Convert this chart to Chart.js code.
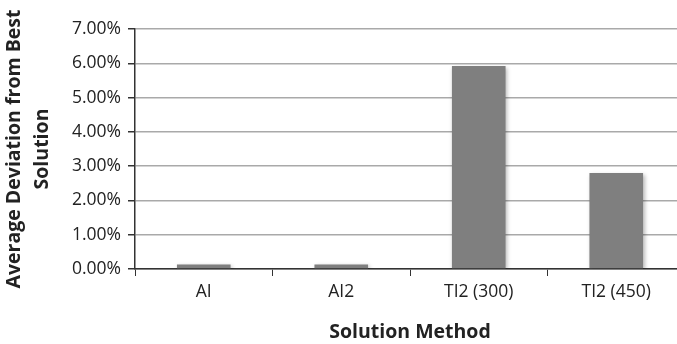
<!DOCTYPE html>
<html>
<head>
<meta charset="utf-8">
<script src="https://cdn.jsdelivr.net/npm/chart.js@4/dist/chart.umd.min.js"></script>
<style>
  html, body { margin: 0; padding: 0; background: #fff; overflow: hidden; }
  #wrap { width: 685px; height: 344px; position: relative; }
</style>
</head>
<body>
<div id="wrap"><canvas id="myChart"></canvas></div>
<script>
var categories = ['AI', 'AI2', 'TI2 (300)', 'TI2 (450)'];
var deviation = [0.0013, 0.0013, 0.0592, 0.0280];
var yTicks = [0, 0.01, 0.02, 0.03, 0.04, 0.05, 0.06, 0.07];

var FONT = "'Open Sans', sans-serif";

// soft drop shadow behind the bars, like the original spreadsheet chart
var barShadow = {
  id: 'barShadow',
  beforeDatasetsDraw: function (chart) {
    var ctx = chart.ctx;
    ctx.save();
    ctx.shadowColor = 'rgba(0,0,0,0.28)';
    ctx.shadowBlur = 4;
    ctx.shadowOffsetX = 1.5;
    ctx.shadowOffsetY = 1.5;
  },
  afterDatasetsDraw: function (chart) {
    chart.ctx.restore();
  }
};

function renderChart() {
  var ctx = document.getElementById('myChart').getContext('2d');
  new Chart(ctx, {
    type: 'bar',
    data: {
      labels: categories,
      datasets: [{
        label: 'Average Deviation',
        data: deviation,
        backgroundColor: '#7f7f7f',
        borderWidth: 0,
        categoryPercentage: 1.0,
        barPercentage: 0.39
      }]
    },
    options: {
      responsive: true,
      maintainAspectRatio: false,
      animation: false,
      layout: { padding: { top: 29, right: 0, left: 0, bottom: 0 } },
      plugins: {
        legend: { display: false },
        tooltip: { enabled: false }
      },
      scales: {
        x: {
          grid: {
            display: true,
            drawOnChartArea: false,
            drawTicks: true,
            tickLength: 7,
            tickColor: '#333',
            offset: true
          },
          border: { color: '#333', width: 1.5 },
          ticks: {
            color: '#222',
            font: { family: FONT, size: 17.5 },
            padding: 6
          },
          title: {
            display: true,
            text: 'Solution Method',
            color: '#222',
            font: { family: FONT, size: 19.5, weight: 'bold' },
            padding: { top: 6, bottom: 0 }
          },
          afterFit: function (scale) { scale.height = 75; }
        },
        y: {
          min: 0,
          max: 0.07,
          afterBuildTicks: function (scale) {
            scale.ticks = yTicks.map(function (v) { return { value: v }; });
          },
          grid: {
            color: '#a9a9a9',
            lineWidth: 1.5,
            drawTicks: true,
            tickLength: 7,
            tickColor: '#333'
          },
          border: { color: '#333', width: 1.5 },
          ticks: {
            color: '#222',
            font: { family: FONT, size: 17.5 },
            padding: 7,
            callback: function (v) { return (v * 100).toFixed(2) + '%'; }
          },
          title: {
            display: true,
            text: ['Average Deviation from Best', 'Solution'],
            color: '#222',
            font: { family: FONT, size: 19.5, weight: 'bold', lineHeight: 1.45 },
            padding: { top: 0, bottom: 0 }
          },
          afterFit: function (scale) { scale.width = 135; }
        }
      }
    },
    plugins: [barShadow]
  });
}

renderChart();
</script>
</body>
</html>
